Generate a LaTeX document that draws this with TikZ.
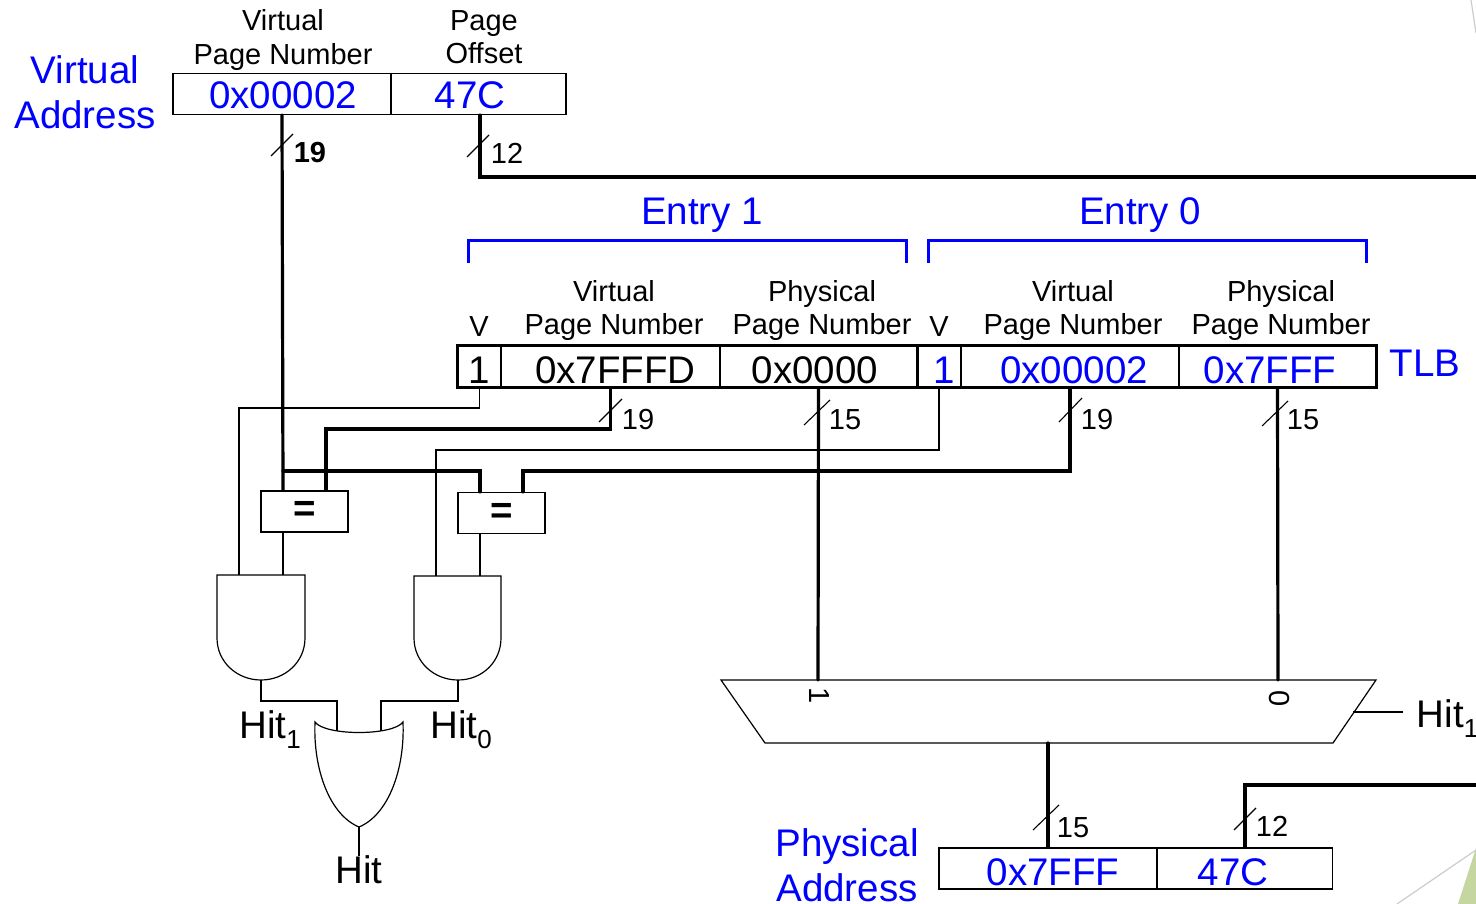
\documentclass[tikz,border=0pt]{standalone}
\usepackage{fontspec}
\setmainfont{Liberation Sans}
\newcommand{\hitsub}[1]{Hit\raisebox{-10pt}{\fontsize{26}{26}\selectfont #1}}
\definecolor{cornergreen}{RGB}{197,214,160}
\tikzset{
    cell/.style={draw, inner sep=0pt, minimum height=41pt, line width=1.2pt},
    small/.style={font=\fontsize{29}{33.5}\selectfont, align=center, inner sep=0pt},
    widthnum/.style={font=\fontsize{29}{33}\selectfont, inner sep=0pt},
    big/.style={font=\fontsize{38.5}{45}\selectfont, align=center, inner sep=0pt},
    bigblue/.style={big, text=blue},
    bus/.style={line width=3.2pt, line cap=round},
    wire/.style={line width=1.2pt},
    tick/.style={line width=1.1pt},
    bracket/.style={blue, line width=3pt}
}
\begin{document}
\begin{tikzpicture}[x=1pt, y=-1pt]
    \useasboundingbox (0,0) rectangle (1476,904);

    % decoration in the corners
    \fill[cornergreen] (1476,848) -- (1458,904) -- (1476,904) -- cycle;
    \draw[gray!40, line width=1.2pt] (1397,904) -- (1476,850);
    \draw[gray!40, line width=1.2pt] (1471,0) -- (1476,33);

    % virtual address
    \node[bigblue] (valabel) at (85,92) {Virtual\\Address};
    \node[small] (vpnhead) at (283,40) {Virtual\\Page Number};
    \node[small] (offhead) at (484,37) {Page\\Offset};
    \node[cell, minimum width=218pt] (vavpn) at (282,94) {};
    \node[cell, minimum width=175pt] (vaoff) at (478.5,94) {};
    \node[bigblue] (vavpntext) at (283,95) {0x00002};
    \node[bigblue] (vaofftext) at (470,95) {47C};

    % entry brackets
    \node[bigblue] (entryone) at (702,215) {Entry 1};
    \node[bigblue] (entryzero) at (1140,215) {Entry 0};
    \draw[bracket] (468,263) -- (468,241) -- (906,241) -- (906,263);
    \draw[bracket] (928,263) -- (928,241) -- (1366,241) -- (1366,263);

    % TLB column heads
    \node[small] (vone) at (479,327) {V};
    \node[small] (vpnone) at (614,310.5) {Virtual\\Page Number};
    \node[small] (ppnone) at (822,310.5) {Physical\\Page Number};
    \node[small] (vzero) at (939,327) {V};
    \node[small] (vpnzero) at (1073,310.5) {Virtual\\Page Number};
    \node[small] (ppnzero) at (1281,310.5) {Physical\\Page Number};
    \node[bigblue] (tlblabel) at (1425,363) {TLB};

    % TLB cells
    \node[cell, minimum width=43pt] (tlbvone) at (479.5,366.5) {};
    \node[cell, minimum width=219pt] (tlbvpnone) at (610.5,366.5) {};
    \node[cell, minimum width=197pt] (tlbppnone) at (818.5,366.5) {};
    \node[cell, minimum width=44pt] (tlbvzero) at (939,366.5) {};
    \node[cell, minimum width=218pt] (tlbvpnzero) at (1070,366.5) {};
    \node[cell, minimum width=197pt] (tlbppnzero) at (1277.5,366.5) {};
    \draw[line width=3.2pt] (tlbvone.north west) rectangle (tlbppnzero.south east);
    \draw[line width=3.2pt] (tlbppnone.north east) -- (tlbppnone.south east);
    \node[big] (tlbvonetext) at (479.5,370) {1};
    \node[big] (tlbvpnonetext) at (615.5,370) {0x7FFFD};
    \node[big] (tlbppnonetext) at (815,370) {0x0000};
    \node[bigblue] (tlbvzerotext) at (944,370) {1};
    \node[bigblue] (tlbvpnzerotext) at (1074,370) {0x00002};
    \node[bigblue] (tlbppnzerotext) at (1270,370) {0x7FFF};

    % comparators
    \node[cell, minimum width=87pt, font=\fontsize{38.5}{45}\selectfont\bfseries] (cmpone) at (304.5,511.5) {=};
    \node[cell, minimum width=87pt, font=\fontsize{38.5}{45}\selectfont\bfseries] (cmpzero) at (501.5,513) {=};

    % gates
    \coordinate (andoneout) at (261,680);
    \coordinate (andzeroout) at (458,680);
    \coordinate (orout) at (359,827);
    \draw[wire] (217,575) -- (305,575) -- (305,638) .. controls (305,662) and (285,680) .. (andoneout)
        .. controls (237,680) and (217,662) .. (217,638) -- cycle;
    \draw[wire] (414,576) -- (501,576) -- (501,638) .. controls (501,662) and (482,680) .. (andzeroout)
        .. controls (434,680) and (414,662) .. (414,638) -- cycle;
    \draw[wire] (315,722) .. controls (325,736) and (393,736) .. (403,722)
        .. controls (405,770) and (388,815) .. (orout)
        .. controls (330,815) and (313,770) .. (315,722) -- cycle;
    \node[big] (hitone) at (270,730) {\hitsub{1}};
    \node[big] (hitzero) at (461,730) {\hitsub{0}};
    \node[big] (hit) at (359,870) {Hit};

    % mux
    \coordinate (muxone) at (818,680);
    \coordinate (muxzero) at (1278,680);
    \coordinate (muxout) at (1048,743);
    \coordinate (muxsel) at (1353,712);
    \draw[wire] (721,680) -- (1376,680) -- (1333,743) -- (765,743) -- cycle;
    \node[small, rotate=-90] (muxonelabel) at (819.5,696) {1};
    \node[small, rotate=-90] (muxzerolabel) at (1279,699) {0};
    \coordinate (selend) at (1403,712);
    \draw[wire] (muxsel) -- (selend);
    \node[big, anchor=west] (hitsel) at (1416.5,719) {\hitsub{1}};

    % physical address
    \node[bigblue] (palabel) at (847,865) {Physical\\Address};
    \node[cell, minimum width=218pt] (papage) at (1048,868.5) {};
    \node[cell, minimum width=175pt] (paoff) at (1245,868.5) {};
    \node[bigblue] (papagetext) at (1053,872) {0x7FFF};
    \node[bigblue] (paofftext) at (1233,872) {47C};

    % thin wires from the valid bits
    \draw[wire] (tlbvone.south) |- (239,408) -- (239,575);
    \draw[wire] (tlbvzero.south) |- (436,450) -- (436,576);
    \draw[wire] (cmpone.south -| 283,0) -- (283,575);
    \draw[wire] (cmpzero.south -| 480,0) -- (480,576);
    \draw[wire] (andoneout) |- (337,701) -- (337,731);
    \draw[wire] (andzeroout) |- (381,701) -- (381,731);
    \draw[wire] (orout) -- (hit.north);

    % buses
    \draw[bus] (vavpn.south) -- (cmpone.north -| 283,0);
    \draw[bus] (283,471) -- (480,471) -- (cmpzero.north -| 480,0);
    \draw[bus] (cmpone.north -| 326,0) -- (326,429) -| (tlbvpnone.south);
    \draw[bus] (cmpzero.north -| 523,0) -- (523,471) -| (tlbvpnzero.south);
    \draw[bus] (tlbppnone.south) -- (muxone);
    \draw[bus] (tlbppnzero.south) -- (muxzero);
    \draw[bus] (muxout) -- (papage.north);
    \draw[bus] (vaoff.south -| 480,0) |- (1478,177);
    \draw[bus] (paoff.north) |- (1478,785);

    % bus widths
    \draw[tick] (271,156) -- (293,134);
    \node[widthnum, font=\fontsize{29}{33}\selectfont\bfseries] (wvpn) at (310,153) {19};
    \draw[tick] (467,157) -- (489,135);
    \node[widthnum] (woff) at (507,153) {12};
    \draw[tick] (599,422) -- (622,399);
    \node[widthnum] (wvpnone) at (638,420) {19};
    \draw[tick] (804,425) -- (830,400);
    \node[widthnum] (wppnone) at (845,420) {15};
    \draw[tick] (1059,422) -- (1082,398);
    \node[widthnum] (wvpnzero) at (1097,420) {19};
    \draw[tick] (1262,426) -- (1288,401);
    \node[widthnum] (wppnzero) at (1303,420) {15};
    \draw[tick] (1033,830) -- (1059,805);
    \node[widthnum] (wpage) at (1073,828) {15};
    \draw[tick] (1234,830) -- (1256,808);
    \node[widthnum] (wpaoff) at (1272,826) {12};
\end{tikzpicture}
\end{document}
